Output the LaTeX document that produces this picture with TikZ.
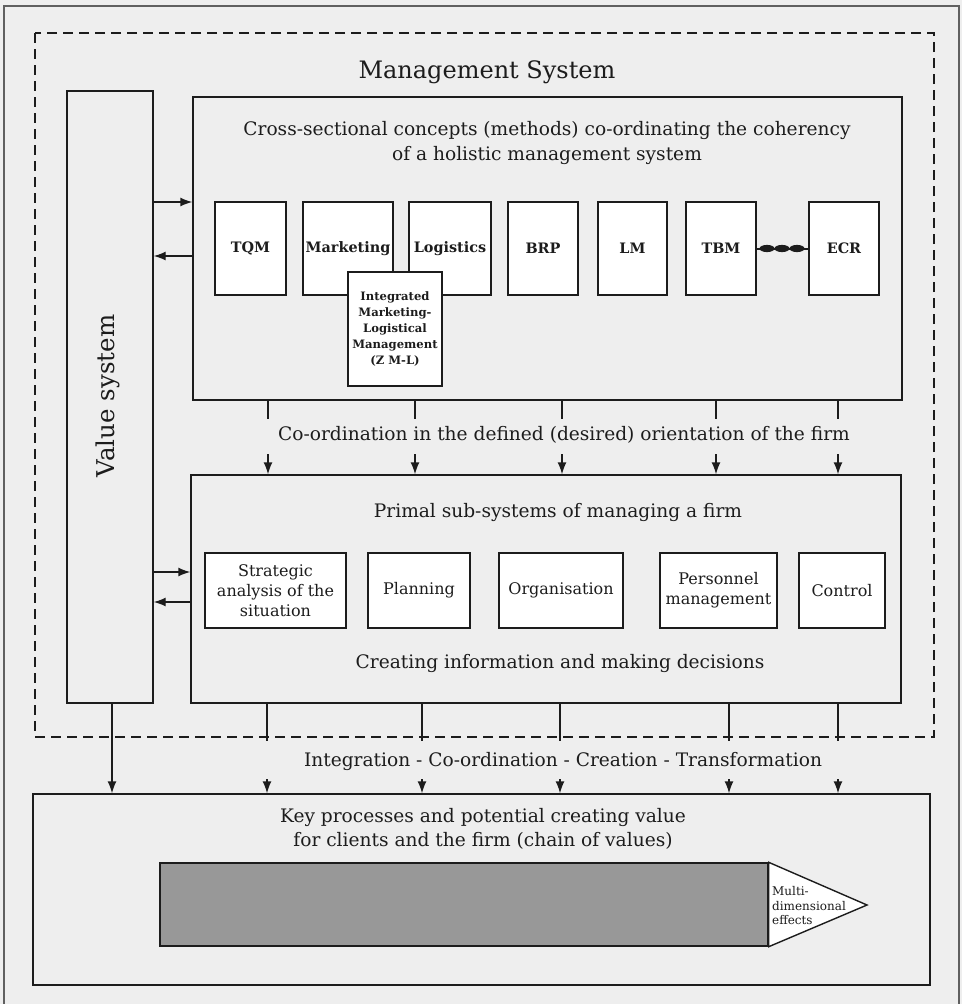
\documentclass[tikz,border=0pt]{standalone}
\usepackage{fontspec}
\setmainfont{DejaVu Serif}
\usetikzlibrary{arrows.meta,calc}
\definecolor{paper}{RGB}{238,238,238}
\definecolor{ink}{RGB}{28,28,28}
\definecolor{stipple}{RGB}{152,152,152}
\newcommand\hdfont{\fontsize{18.6}{25}\selectfont}
\begin{document}
\begin{tikzpicture}[x=1pt,y=-1pt,
  >={Latex[length=12pt,width=9pt]},
  every node/.style={text=ink},
  line/.style={draw=ink,line width=1.4pt},
  bigbox/.style={line,inner sep=0pt},
  method/.style={line,fill=white,inner sep=0pt,minimum height=93pt,
    font=\bfseries\fontsize{14.4}{17}\selectfont},
  subsys/.style={line,fill=white,inner sep=0pt,minimum height=75pt,
    align=center,font=\fontsize{16}{20}\selectfont},
  heading/.style={anchor=base,font=\hdfont},
  flow/.style={draw=ink,line width=1.4pt,->}]

\useasboundingbox (0,0) rectangle (962,1004);
\fill[paper] (0,0) rectangle (962,1004);

% sheet edge
\draw[ink!70,line width=1.2pt] (4,1004) -- (4,6) -- (959,6) -- (959,1004);

% management system frame
\draw[ink,line width=1.5pt,dash pattern=on 10pt off 6pt] (35,33) rectangle (934,737);
\node[anchor=base,font=\fontsize{24}{28}\selectfont] (title) at (487,78) {Management System};

% value system column
\node[bigbox,minimum width=86pt,minimum height=612pt] (value) at (110,397) {};
\node[rotate=90,font=\fontsize{24.5}{28}\selectfont] (valuelbl) at (108,396) {Value system};

% cross-sectional concepts
\node[bigbox,minimum width=709pt,minimum height=303pt] (cross) at (547.5,248.5) {};
\node[heading] (crossA) at (547,135) {Cross-sectional concepts (methods) co-ordinating the coherency};
\node[heading] (crossB) at (547,160) {of a holistic management system};

\node[method,minimum width=71pt] (tqm) at (250.5,248.5) {TQM};
\node[method,minimum width=90pt] (mkt) at (348,248.5) {Marketing};
\node[method,minimum width=82pt] (log) at (450,248.5) {Logistics};
\node[method,minimum width=70pt] (brp) at (543,248.5) {BRP};
\node[method,minimum width=69pt] (lm) at (632.5,248.5) {LM};
\node[method,minimum width=70pt] (tbm) at (721,248.5) {TBM};
\node[method,minimum width=70pt] (ecr) at (844,248.5) {ECR};
\draw[ink,line width=2pt] (tbm.east) -- (ecr.west);
\foreach \c in {767,782,797} \fill[ink] (\c,248.5) ellipse (7.5pt and 3.6pt);

\node[line,fill=white,inner sep=0pt,minimum width=94pt,minimum height=114pt,
  align=center,font=\bfseries\fontsize{11.6}{16}\selectfont] (zml) at (395,329)
  {Integrated\\Marketing-\\Logistical\\Management\\(Z M-L)};

% primal sub-systems
\node[bigbox,minimum width=710pt,minimum height=228pt] (primal) at (546,589) {};
\node[heading] (primalT) at (558,517) {Primal sub-systems of managing a firm};
\node[subsys,minimum width=141pt] (strat) at (275.5,590.5) {Strategic\\analysis of the\\situation};
\node[subsys,minimum width=102pt] (plan) at (419,590.5) {Planning};
\node[subsys,minimum width=124pt] (org) at (561,590.5) {Organisation};
\node[subsys,minimum width=117pt] (pers) at (718.5,590.5) {Personnel\\management};
\node[subsys,minimum width=86pt] (ctrl) at (842,590.5) {Control};
\node[heading] (creating) at (560,668) {Creating information and making decisions};

% orientation arrows
\node[heading] (orient) at (564,440) {Co-ordination in the defined (desired) orientation of the firm};
\foreach \x in {268,415,562,716,838} {
  \draw[line] (cross.south -| \x,0) -- ++(0,18);
  \draw[flow] ($(primal.north -| \x,0)+(0,-20)$) -- (primal.north -| \x,0);
}

% value system exchanges
\coordinate (ra) at (0,202);
\coordinate (rb) at (0,256);
\coordinate (rc) at (0,572);
\coordinate (rd) at (0,602);
\draw[flow] (value.east |- ra) -- (cross.west |- ra);
\draw[flow] (cross.west |- rb) -- (value.east |- rb);
\draw[flow] (value.east |- rc) -- (primal.west |- rc);
\draw[flow] (primal.west |- rd) -- (value.east |- rd);

% key processes
\node[bigbox,minimum width=897pt,minimum height=191pt] (key) at (481.5,889.5) {};
\node[heading] (keyA) at (483,822) {Key processes and potential creating value};
\node[heading] (keyB) at (483,846) {for clients and the firm (chain of values)};
\node[heading] (integr) at (563,766) {Integration - Co-ordination - Creation - Transformation};

\draw[flow] (value.south -| 112,0) -- (key.north -| 112,0);
\foreach \x in {267,422,560,729,838} {
  \draw[line] (primal.south -| \x,0) -- ++(0,37);
  \draw[flow] ($(key.north -| \x,0)+(0,-14)$) -- (key.north -| \x,0);
}

% value chain arrow
\node[draw=ink,line width=1.4pt,fill=stipple,inner sep=0pt,minimum width=608pt,minimum height=83pt] (bar) at (464,904.5) {};
\coordinate (tip) at (867,905);
\draw[ink,line width=1.4pt,fill=white,line join=miter] (bar.north east) -- (tip) -- (bar.south east) -- cycle;
\node[anchor=west,align=left,inner sep=0pt,font=\fontsize{12}{14.5}\selectfont] (effects) at (772,906) {Multi-\\dimensional\\effects};

\end{tikzpicture}
\end{document}
